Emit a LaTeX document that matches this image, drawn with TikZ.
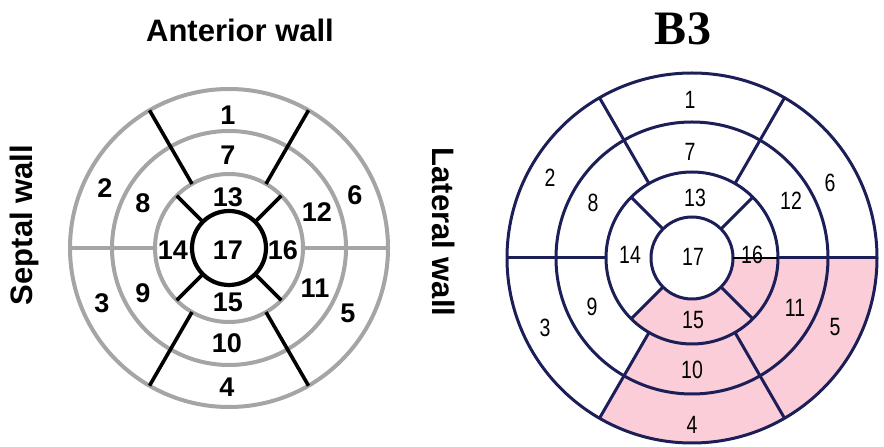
\documentclass[tikz,border=0pt]{standalone}
\usepackage{fontspec}
\setmainfont{Liberation Sans}
\newfontfamily\narrowsans[FakeStretch=0.78]{Liberation Sans}
\newfontfamily\titleserif{Liberation Serif}
\definecolor{ringgray}{RGB}{165,165,165}
\definecolor{navy}{RGB}{28,30,88}
\definecolor{infarct}{RGB}{250,205,216}
\tikzset{
  leftnum/.style={font=\bfseries\fontsize{27}{27}\selectfont, inner sep=0pt},
  rightnum/.style={font=\narrowsans\fontsize{25}{25}\selectfont, inner sep=0pt},
  walllabel/.style={font=\bfseries\fontsize{31}{31}\selectfont, inner sep=0pt},
}

\begin{document}
\begin{tikzpicture}[x=1pt, y=1pt]
    \useasboundingbox (0,0) rectangle (884,447);
    % left model, grey rings and black spokes
    \begin{scope}[shift={(229,199)}]
        \foreach \r in {159,117,74} \draw[ringgray, line width=4pt] (0,0) circle (\r);
        \draw[ringgray, line width=3.5pt] (180:159) -- (180:74) (0:74) -- (0:159);
        \foreach \a in {60,120,240,300} \draw[line width=3.6pt] (\a:159) -- (\a:74);
        \foreach \a in {45,135,225,315} \draw[line width=3.6pt] (\a:74) -- (\a:37);
        \draw[line width=4.2pt, fill=white] (0,0) circle (37);
    \end{scope}
    \foreach \n/\x/\y in {1/228/332, 7/228/292, 13/228/250, 17/228/197, 14/173/197, 16/283/197,
        15/228/145, 10/227/104, 4/227/60, 2/105/259, 8/143/244, 12/317/235, 6/355/252,
        9/143/154, 3/102/144, 11/315/159, 5/348/134}
        \node[leftnum] (l\n) at (\x,\y) {\n};
    \node[walllabel] (anterior) at (240,417) {Anterior wall};
    \node[walllabel, rotate=90] (septal) at (24,222) {Septal wall};
    \node[walllabel, rotate=-90] (lateral) at (444,215) {Lateral wall};

    % right model B3
    \begin{scope}[shift={(692,189)}]
        \fill[infarct] (0:185) arc[start angle=0, end angle=-120, radius=185] -- (-120:86)
            arc[start angle=-120, end angle=-135, radius=86] -- (-135:41)
            arc[start angle=-135, end angle=0, radius=41] -- cycle;
        \foreach \r in {185,136,86,41} \draw[navy, line width=3pt] (0,0) circle (\r);
        \draw[navy, line width=3pt] (180:185) -- (180:86) (0:86) -- (0:185);
        \draw[line width=1.4pt] (0:86) -- (0:41);
        \foreach \a in {60,120,240,300} \draw[navy, line width=3pt] (\a:185) -- (\a:86);
        \foreach \a in {45,135,225,315} \draw[navy, line width=3pt] (\a:86) -- (\a:41);
    \end{scope}
    \foreach \n/\x/\y in {1/690/347, 7/690/295, 13/695/249, 17/693/190, 14/630/192, 16/752/192,
        15/693/127, 10/692/77, 4/692/22, 2/550/269, 8/593/244, 12/791/246, 6/830/264,
        9/592/140, 3/545/119, 11/795/139, 5/835/120}
        \node[rightnum] (r\n) at (\x,\y) {\n};
    \node[font=\titleserif\bfseries\fontsize{48}{48}\selectfont, inner sep=0pt] (title) at (683,418) {B3};
\end{tikzpicture}
\end{document}
